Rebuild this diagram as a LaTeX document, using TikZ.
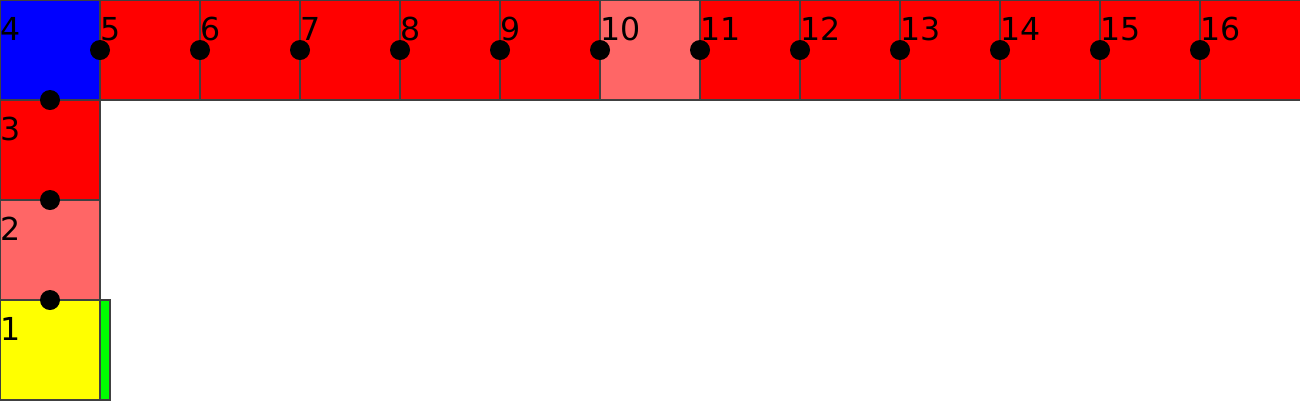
\documentclass[tikz,border=0pt]{standalone}
\usepackage{fontspec}
\setmainfont{DejaVu Sans}
\usepackage{xcolor}
\usepackage{tikz}
\usetikzlibrary{positioning}
\definecolor{cellRed}{HTML}{FF0000}
\definecolor{cellPink}{HTML}{FF6666}
\definecolor{cellBlue}{HTML}{0000FF}
\definecolor{cellYellow}{HTML}{FFFF00}
\definecolor{cellGreen}{HTML}{00FF00}

\begin{document}
\begin{tikzpicture}[node distance=0mm,
    cell/.style={draw=black!75, line width=0.3pt, minimum size=1cm, inner sep=0pt, outer sep=0pt, fill=cellRed},
    dot/.style={circle, fill=black, minimum size=0.2cm, inner sep=0pt},
    lbl/.style={anchor=base west, inner sep=0pt, font=\fontsize{9}{10.8}\selectfont, yshift=-0.4cm}]
    \useasboundingbox (0,0) rectangle (13,4);
    % left column
    \node[cell, fill=cellYellow] (c1) at (0.5,0.5) {};
    \node[cell, fill=cellPink, above=of c1] (c2) {};
    \node[cell, above=of c2] (c3) {};
    \node[cell, fill=cellBlue, above=of c3] (c4) {};
    % top row
    \foreach \n [count=\i from 4] in {5,...,16} {
      \ifnum\n=10
        \node[cell, fill=cellPink, right=of c\i] (c\n) {};
      \else
        \node[cell, right=of c\i] (c\n) {};
      \fi
    }
    \draw[draw=black!75, line width=0.3pt, fill=cellGreen] (c1.south east) rectangle ([xshift=0.1cm]c1.north east);
    % dots
    \foreach \i in {1,2,3} \node[dot] (d\i) at (c\i.north) {};
    \foreach \n in {5,...,16} \node[dot] (d\n) at (c\n.west) {};
    % labels
    \foreach \n in {1,...,16} \node[lbl] (l\n) at (c\n.north west) {\n};
  \end{tikzpicture}
\end{document}
